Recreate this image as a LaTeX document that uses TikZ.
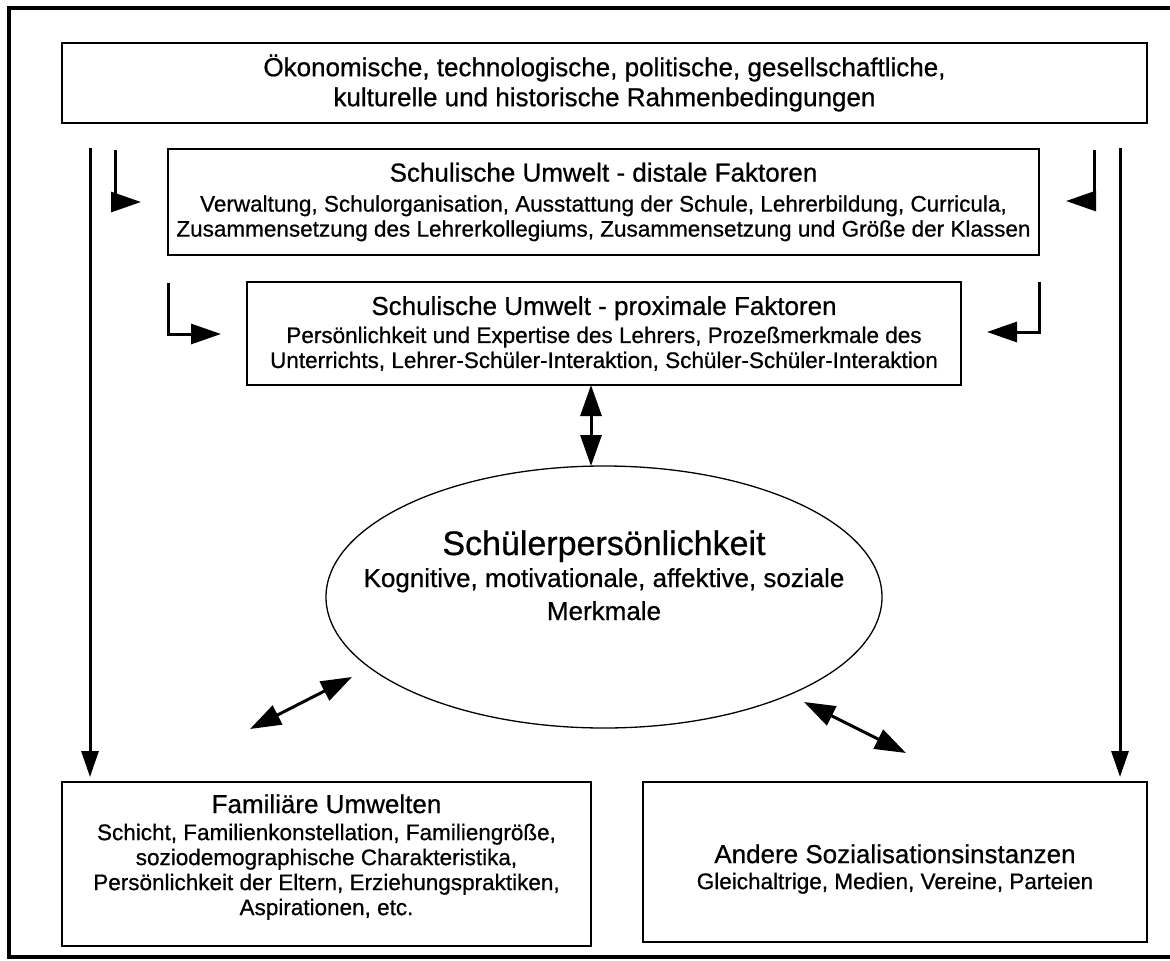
\documentclass[tikz,border=0pt]{standalone}
\usepackage{fontspec}
\setmainfont{Liberation Sans}[FakeBold=0.7]
\usetikzlibrary{arrows.meta,shapes.geometric}
\newcommand\myhd{\fontsize{26}{30}\selectfont}
\newcommand\mysub{\fontsize{22.5}{25}\selectfont}
\begin{document}
\begin{tikzpicture}[x=1pt,y=-1pt,
  box/.style={draw, line width=1.5pt, rectangle, align=center, inner sep=0pt},
  txt/.style={align=center, inner sep=0pt},
  arr/.style={line width=3pt, -{Triangle[length=26pt,width=17pt]}},
  barr/.style={line width=3pt, -{Triangle[length=30pt,width=20pt]}},
  darr/.style={line width=3pt, {Triangle[length=31pt,width=21pt]}-{Triangle[length=31pt,width=21pt]}},
  frame/.style={line width=4pt}]
\useasboundingbox (0,0) rectangle (1170,961);
\fill[white] (0,0) rectangle (1170,961);
% frame
\coordinate (f1) at (1170,8);
\coordinate (f2) at (9,8);
\coordinate (f3) at (9,957);
\coordinate (f4) at (1170,957);
\draw[frame] (f1) -- (f2) -- (f3) -- (f4);

% boxes
\node[box, minimum width=1085pt, minimum height=80pt, font=\myhd] (rahmen) at (604.5,83)
  {Ökonomische, technologische, politische, gesellschaftliche,\\ kulturelle und historische Rahmenbedingungen};

\node[box, minimum width=871pt, minimum height=106pt, font=\mysub] (distal) at (603.5,202)
  {{\myhd Schulische Umwelt - distale Faktoren}\\[5pt]
   Verwaltung, Schulorganisation, Ausstattung der Schule, Lehrerbildung, Curricula,\\
   Zusammensetzung des Lehrerkollegiums, Zusammensetzung und Größe der Klassen};

\node[box, minimum width=714pt, minimum height=103pt, font=\mysub] (proximal) at (604,333.5)
  {{\myhd Schulische Umwelt - proximale Faktoren}\\[3pt]
   Persönlichkeit und Expertise des Lehrers, Prozeßmerkmale des\\
   Unterrichts, Lehrer-Schüler-Interaktion, Schüler-Schüler-Interaktion};

\node[draw, ellipse, line width=1.3pt, minimum width=556pt, minimum height=262pt, inner sep=0pt] (schueler) at (604,597) {};
\node[txt, anchor=base, font=\fontsize{34}{38}\selectfont] (st1) at (604,555) {Schülerpersönlichkeit};
\node[txt, anchor=base, font=\fontsize{26}{30}\selectfont] (st2) at (604,587) {Kognitive, motivationale, affektive, soziale};
\node[txt, anchor=base, font=\fontsize{26}{30}\selectfont] (st3) at (604,620) {Merkmale};

\node[box, minimum width=529pt, minimum height=164pt] (familie) at (326.5,864) {};
\node[txt, font=\mysub] (famtxt) at (326.5,857)
  {{\myhd Familiäre Umwelten}\\[2pt]
   Schicht, Familienkonstellation, Familiengröße,\\
   soziodemographische Charakteristika,\\
   Persönlichkeit der Eltern, Erziehungspraktiken,\\
   Aspirationen, etc.};

\node[box, minimum width=504pt, minimum height=160pt] (andere) at (895,862) {};
\node[txt, font=\mysub] (andtxt) at (895,869)
  {{\myhd Andere Sozialisationsinstanzen}\\[1pt]
   Gleichaltrige, Medien, Vereine, Parteien};

% long arrows
\coordinate (la1) at (90,148);
\coordinate (la2) at (90,777);
\coordinate (ra1) at (1120,148);
\coordinate (ra2) at (1120,777);
\draw[arr] (la1) -- (la2);
\draw[arr] (ra1) -- (ra2);

% bent arrows
\coordinate (b1s) at (115,150);
\coordinate (b1e) at (141,202);
\draw[barr] (b1s) |- (b1e);
\coordinate (b2s) at (1094,150);
\coordinate (b2e) at (1066,201);
\draw[barr] (b2s) |- (b2e);
\coordinate (b3s) at (168,283);
\coordinate (b3e) at (221,334);
\draw[barr] (b3s) |- (b3e);
\coordinate (b4s) at (1039,282);
\coordinate (b4e) at (987,332);
\draw[barr] (b4s) |- (b4e);

% double arrows
\coordinate (mtop) at (591,385);
\coordinate (mbot) at (591,466);
\draw[darr] (mtop) -- (mbot);
\coordinate (dl1) at (250,729);
\coordinate (dl2) at (352,677);
\draw[darr] (dl1) -- (dl2);
\coordinate (dr1) at (804,702);
\coordinate (dr2) at (906,753);
\draw[darr] (dr1) -- (dr2);
\end{tikzpicture}
\end{document}
